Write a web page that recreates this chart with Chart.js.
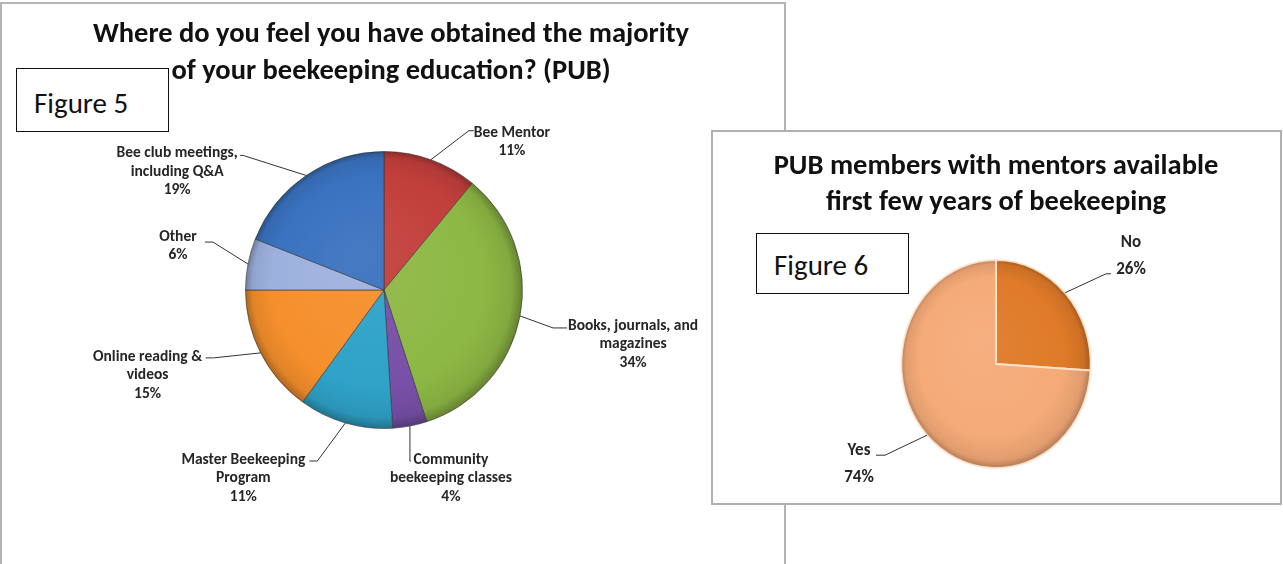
<!DOCTYPE html>
<html>
<head>
<meta charset="utf-8">
<script src="https://cdn.jsdelivr.net/npm/chart.js@4.4.0/dist/chart.umd.min.js"></script>
<style>
  html, body { margin: 0; padding: 0; background: #fff; }
  body { width: 1283px; height: 564px; position: relative; overflow: hidden; font-family: Carlito, Lato, sans-serif; color: #111; }
  .frame { position: absolute; left: 0; top: 2px; width: 786px; height: 600px; border: 2px solid #b4b4b4; border-bottom: none; box-sizing: border-box; }
  .panel { position: absolute; left: 711px; top: 130px; width: 571px; height: 375px; border: 2px solid #b0b0b0; background: #fff; box-sizing: border-box; }
  .title { position: absolute; text-align: center; font-weight: bold; font-size: 28.5px; line-height: 37px; white-space: nowrap; }
  .fig { position: absolute; border: 1.5px solid #111; background: #fff; font-size: 29px; box-sizing: border-box; padding-left: 17px; white-space: nowrap; }
  canvas { position: absolute; }
</style>
</head>
<body>
<div class="frame"></div>
<canvas id="eduChart" width="784" height="564" style="left:0;top:0"></canvas>
<div class="title" style="left:0;top:14px;width:782px">Where do you feel you have obtained the majority<br>of your beekeeping education? (PUB)</div>
<div class="fig" style="left:16px;top:68px;width:153px;height:64px;line-height:68px">Figure 5</div>

<div class="panel"></div>
<canvas id="mentorChart" width="570" height="374" style="left:711px;top:130px"></canvas>
<div class="title" style="left:711px;top:147px;width:570px;line-height:36px">PUB members with mentors available<br>first few years of beekeeping</div>
<div class="fig" style="left:756px;top:233px;width:153px;height:61px;line-height:62px">Figure 6</div>

<script>
// Figure 5: where members got most of their beekeeping education
const eduSources = [
  ['Bee Mentor'],
  ['Books, journals, and', 'magazines'],
  ['Community', 'beekeeping classes'],
  ['Master Beekeeping', 'Program'],
  ['Online reading &', 'videos'],
  ['Other'],
  ['Bee club meetings,', 'including Q&A']
];
const eduShares = [11, 34, 4, 11, 15, 6, 19];
const eduColors = ['#C23F3B', '#8DB845', '#7850A8', '#2FA2C8', '#F58F2C', '#9DB1DE', '#3A72BF'];

// Figure 6: mentors available in the first years
const mentorAnswers = [['No'], ['Yes']];
const mentorShares = [26, 74];
const mentorColors = ['#DF7A28', '#F5AA78'];

// mix a hex colour toward white (f > 0) or black (f < 0)
function shade(hex, f) {
  const n = parseInt(hex.slice(1), 16);
  let rgb = [(n >> 16) & 255, (n >> 8) & 255, n & 255];
  rgb = rgb.map(c => Math.round(f > 0 ? c + (255 - c) * f : c * (1 + f)));
  return 'rgb(' + rgb.join(',') + ')';
}

// soft office-style bevel: slightly lighter in the middle, darker at the rim
function sliceFill(colors) {
  return (context) => {
    const base = colors[context.dataIndex];
    const a = context.chart.chartArea;
    if (!a) return base;
    const cx = (a.left + a.right) / 2, cy = (a.top + a.bottom) / 2;
    const r = Math.min(a.right - a.left, a.bottom - a.top) / 2;
    const g = context.chart.ctx.createRadialGradient(cx - r * 0.2, cy - r * 0.25, r * 0.05, cx, cy, r);
    g.addColorStop(0, shade(base, 0.06));
    g.addColorStop(0.75, base);
    g.addColorStop(0.93, shade(base, -0.08));
    g.addColorStop(1, shade(base, -0.3));
    return g;
  };
}

// squeeze the pie horizontally so it reads as a tilted disc
const squash = {
  id: 'squash',
  beforeDatasetsDraw(chart, args, opts) {
    if (!opts.x || opts.x === 1) return;
    const a = chart.chartArea, ctx = chart.ctx;
    const cx = (a.left + a.right) / 2, cy = (a.top + a.bottom) / 2;
    ctx.save();
    ctx.translate(cx, cy);
    ctx.scale(opts.x, 1);
    ctx.translate(-cx, -cy);
  },
  afterDatasetsDraw(chart, args, opts) {
    if (!opts.x || opts.x === 1) return;
    chart.ctx.restore();
  }
};

// category labels with leader lines, anchored on each slice's mid angle
const callouts = {
  id: 'callouts',
  afterDatasetsDraw(chart, args, opts) {
    const ctx = chart.ctx;
    const meta = chart.getDatasetMeta(0);
    const values = chart.data.datasets[0].data;
    const sx = opts.scaleX || 1;
    ctx.save();
    ctx.font = opts.font;
    ctx.textAlign = 'center';
    ctx.textBaseline = 'middle';
    ctx.fillStyle = '#262626';
    ctx.strokeStyle = '#333';
    ctx.lineWidth = 1;
    meta.data.forEach((arc, i) => {
      const p = arc.getProps(['x', 'y', 'startAngle', 'endAngle', 'outerRadius'], true);
      const mid = (p.startAngle + p.endAngle) / 2;
      const rx = p.x + Math.cos(mid) * p.outerRadius * sx;
      const ry = p.y + Math.sin(mid) * p.outerRadius;
      const L = opts.layout[i];
      const ex = rx + L.elbow[0], ey = ry + L.elbow[1];
      const tx = ex + L.stub;
      ctx.beginPath();
      ctx.moveTo(rx, ry);
      ctx.lineTo(ex, ey);
      ctx.lineTo(tx, ey);
      ctx.stroke();
      const lines = chart.data.labels[i].concat([values[i] + '%']);
      lines.forEach((t, k) => {
        ctx.fillText(t, tx + L.text[0], ey + L.text[1] + k * opts.lineHeight);
      });
    });
    ctx.restore();
  }
};

new Chart(document.getElementById('eduChart'), {
  type: 'pie',
  data: {
    labels: eduSources,
    datasets: [{
      data: eduShares,
      backgroundColor: sliceFill(eduColors),
      borderColor: 'rgba(50,50,50,0.55)',
      borderWidth: 1
    }]
  },
  plugins: [callouts],
  options: {
    responsive: false,
    animation: false,
    layout: { padding: { left: 245, right: 261, top: 151, bottom: 135 } },
    plugins: {
      legend: { display: false },
      tooltip: { enabled: false },
      callouts: {
        font: 'bold 15.5px Carlito, Lato, sans-serif',
        lineHeight: 18.5,
        layout: [
          { elbow: [38, -29], stub: 5, text: [38, 2] },
          { elbow: [33, 12], stub: 14, text: [66, -2] },
          { elbow: [0, 35], stub: 1, text: [40, -1] },
          { elbow: [-28, 38], stub: -8, text: [-66, -1] },
          { elbow: [-47, 5], stub: -8, text: [-58, -1] },
          { elbow: [-35, -22], stub: -8, text: [-27, -5] },
          { elbow: [-63, -20], stub: -3, text: [-63, -2] }
        ]
      }
    }
  }
});

new Chart(document.getElementById('mentorChart'), {
  type: 'pie',
  data: {
    labels: mentorAnswers,
    datasets: [{
      data: mentorShares,
      backgroundColor: sliceFill(mentorColors),
      borderColor: 'rgba(255,230,205,0.9)',
      borderWidth: 2
    }]
  },
  plugins: [squash, callouts],
  options: {
    responsive: false,
    animation: false,
    layout: { padding: { left: 180, right: 180, top: 129, bottom: 35 } },
    plugins: {
      legend: { display: false },
      tooltip: { enabled: false },
      squash: { x: 0.91 },
      callouts: {
        scaleX: 0.91,
        font: 'bold 17px Carlito, Lato, sans-serif',
        lineHeight: 27,
        layout: [
          { elbow: [41, -19], stub: 5, text: [20, -31] },
          { elbow: [-42, 20], stub: -9, text: [-17, -4] }
        ]
      }
    }
  }
});
</script>
</body>
</html>
